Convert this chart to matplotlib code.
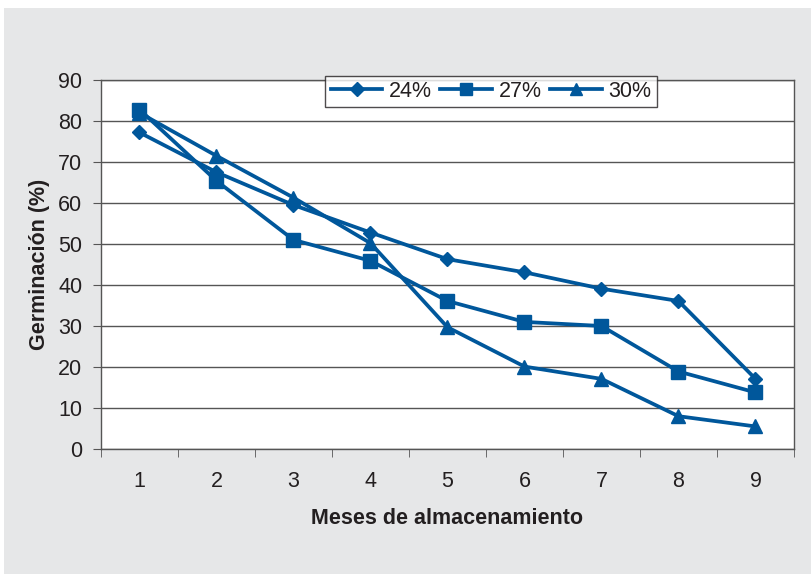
import matplotlib
matplotlib.use("Agg")
import matplotlib.pyplot as plt
from matplotlib.patches import Rectangle

plt.rcParams['font.family'] = ['Liberation Sans', 'DejaVu Sans']

months = [1, 2, 3, 4, 5, 6, 7, 8, 9]
s24 = [77.2, 67.5, 59.5, 52.8, 46.3, 43.1, 39.1, 36.1, 17.1]
s27 = [82.8, 65.4, 51.0, 45.9, 36.1, 31.0, 30.0, 18.9, 13.8]
s30 = [82.0, 71.5, 61.3, 50.2, 29.7, 20.1, 17.1, 8.0, 5.5]
labels = ['24%', '27%', '30%']
yticks = [0, 10, 20, 30, 40, 50, 60, 70, 80, 90]

W, H = 812, 575
fig = plt.figure(figsize=(W / 100, H / 100), dpi=100)
fig.patch.set_facecolor('white')
bg = Rectangle((4 / W, 1 - 574 / H), (W - 4) / W, (574 - 8) / H,
               transform=fig.transFigure, facecolor='#e6e7e8',
               edgecolor='none', zorder=-10)
fig.patches.append(bg)

ax = fig.add_axes([101 / W, 1 - 449 / H, (794 - 101) / W, (449 - 80) / H])
ax.set_zorder(1)
ax.set_facecolor('white')

color = '#00579b'
ax.plot(months, s24, color=color, lw=2.7, marker='D', ms=7.5, label=labels[0], zorder=3)
ax.plot(months, s27, color=color, lw=2.7, marker='s', ms=10, label=labels[1], zorder=3)
ax.plot(months, s30, color=color, lw=2.7, marker='^', ms=9.5, label=labels[2], zorder=3)

ax.set_xlim(0.5, 9.5)
ax.set_ylim(0, 90)
ax.set_yticks(yticks)
ax.set_yticklabels([str(v) for v in yticks], fontsize=15.5, color='#231f20')
ax.yaxis.grid(True, color='#555555', lw=1)
ax.set_axisbelow(True)

ax.set_xticks(months)
ax.set_xticklabels([str(m) for m in months], fontsize=15.5, color='#231f20')
ax.tick_params(axis='x', which='major', length=0, pad=16)
ax.set_xticks([m + 0.5 for m in [0] + months], minor=True)
ax.tick_params(axis='x', which='minor', length=6, color='#555555', direction='out')
ax.tick_params(axis='y', length=6, color='#555555', direction='out', pad=7.5)

for side in ['left', 'bottom', 'right', 'top']:
    ax.spines[side].set_color('#555555')
    ax.spines[side].set_linewidth(1)

ax.set_xlabel('Meses de almacenamiento', fontsize=15.5, fontweight='bold', color='#231f20', labelpad=11)
ax.set_ylabel('Germinación (%)', fontsize=15.5, fontweight='bold', color='#231f20', labelpad=6)

leg = fig.legend(loc='center', bbox_to_anchor=(491 / W, 1 - 91.5 / H), ncol=3,
                 fontsize=15.5, frameon=True, fancybox=False, edgecolor='#231f20',
                 handlelength=2.4, handletextpad=0.3, columnspacing=0.4,
                 borderpad=0.25, borderaxespad=0, markerscale=0.9)
leg.set_zorder(5)
leg.get_frame().set_linewidth(1)
leg.get_frame().set_facecolor('white')
for t in leg.get_texts():
    t.set_color('#231f20')

fig.savefig('out.png', dpi=100)
